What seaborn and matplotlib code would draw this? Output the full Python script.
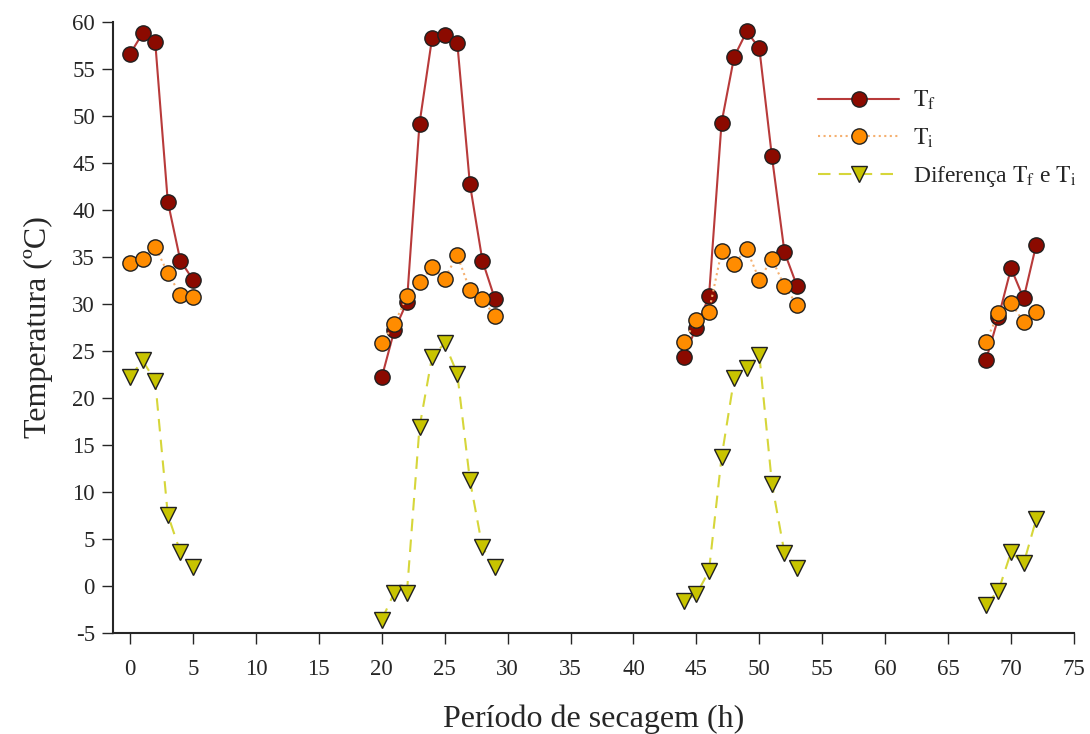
import numpy as np
import pandas as pd
import matplotlib
matplotlib.use('Agg')
import matplotlib.pyplot as plt
import seaborn as sns

# Horas de cada periodo de secagem
horas = [0, 1, 2, 3, 4, 5,
         20, 21, 22, 23, 24, 25, 26, 27, 28, 29,
         44, 45, 46, 47, 48, 49, 50, 51, 52, 53,
         68, 69, 70, 71, 72]
dia = [1] * 6 + [2] * 10 + [3] * 10 + [4] * 5

# Temperatura final (Tf)
t_final = [56.6, 58.8, 57.9, 40.9, 34.6, 32.6,
           22.2, 27.2, 30.2, 49.2, 58.3, 58.6, 57.8, 42.8, 34.6, 30.5,
           24.4, 27.5, 30.8, 49.3, 56.3, 59.0, 57.2, 45.7, 35.5, 31.9,
           24.0, 28.6, 33.8, 30.6, 36.3]

# Temperatura inicial (Ti)
t_inicial = [34.4, 34.8, 36.1, 33.3, 31.0, 30.7,
             25.8, 27.9, 30.8, 32.3, 33.9, 32.7, 35.2, 31.5, 30.5, 28.7,
             26.0, 28.3, 29.2, 35.6, 34.3, 35.8, 32.6, 34.8, 31.9, 29.9,
             26.0, 29.0, 30.1, 28.1, 29.1]

# Diferenca Tf e Ti
diferenca = [22.2, 24.0, 21.8, 7.6, 3.6, 2.0,
             -3.6, -0.7, -0.7, 16.9, 24.4, 25.8, 22.6, 11.3, 4.1, 2.0,
             -1.6, -0.9, 1.6, 13.7, 22.1, 23.2, 24.6, 10.9, 3.5, 1.9,
             -2.0, -0.5, 3.6, 2.4, 7.1]

df = pd.DataFrame({'horas': horas, 'dia': dia, 'tf': t_final,
                   'ti': t_inicial, 'dif': diferenca})

sns.set_style('ticks')
plt.rcParams['font.family'] = ['Liberation Serif', 'DejaVu Serif']
plt.rcParams['mathtext.fontset'] = 'stix'
plt.rcParams['axes.unicode_minus'] = False

fig = plt.figure(figsize=(10.9, 7.34), dpi=100)
ax = fig.add_axes([0.1037, 0.1376, 0.8816, 0.8324])

series = [
    ('tf', r'$\mathrm{T_f}$', '#b83a3a', '-', 'o', '#8b0a00', 11),
    ('ti', r'$\mathrm{T_i}$', '#f5b070', ':', 'o', '#ff8c00', 11),
    ('dif', r'Diferença $\mathrm{T_f}$ e $\mathrm{T_i}$', '#d6d63a', (0, (6, 4)), 'v', '#c8c400', 12),
]

handles = []
for col, label, lc, ls, mk, mc, ms in series:
    sns.lineplot(data=df, x='horas', y=col, units='dia', estimator=None,
                 color=lc, linestyle=ls, linewidth=1.5, ax=ax, legend=False)
    ax.plot(df['horas'], df[col], linestyle='none', marker=mk, markersize=ms,
            markerfacecolor=mc, markeredgecolor='#202020', markeredgewidth=1.0)
    h, = ax.plot([], [], color=lc, linestyle=ls, linewidth=1.5, marker=mk,
                 markersize=ms, markerfacecolor=mc, markeredgecolor='#202020')
    handles.append((h, label))

ax.set_xlim(-1.35, 75)
ax.set_ylim(-5, 60)
ax.set_xticks(np.arange(0, 76, 5))
ax.set_yticks(np.arange(-5, 61, 5))
sns.despine(ax=ax)
ax.spines['left'].set_linewidth(1.5)
ax.spines['bottom'].set_linewidth(1.5)
ax.tick_params(axis='x', direction='out', length=8, width=1, pad=11, labelsize=16.5)
ax.tick_params(axis='y', direction='out', length=8, width=1, pad=5, labelsize=16.5)

ax.set_xlabel('Período de secagem (h)', fontsize=23, labelpad=17)
ax.set_ylabel('Temperatura (ºC)', fontsize=23, labelpad=14)

ax.legend([h for h, _ in handles], [l for _, l in handles],
          loc='upper left', bbox_to_anchor=(0.712, 0.925), frameon=False,
          fontsize=17, handlelength=3.4, labelspacing=0.6, handletextpad=0.6)

fig.savefig('out.png', dpi=100)
